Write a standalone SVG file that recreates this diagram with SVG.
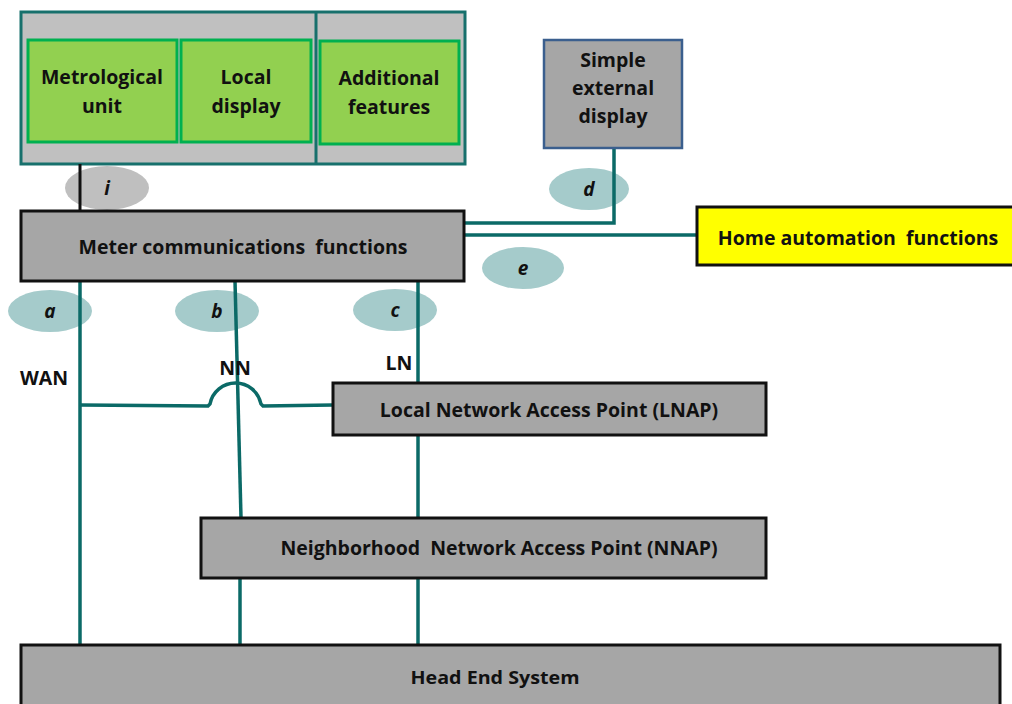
<svg xmlns="http://www.w3.org/2000/svg" width="1012" height="704" viewBox="0 0 1012 704">
<style>
.t{font-family:"Open Sans","Liberation Sans",sans-serif;font-weight:bold;font-size:19.5px;fill:#111;text-anchor:middle;white-space:pre}
.hs{font-family:"Open Sans","Liberation Sans",sans-serif;font-weight:bold;font-size:18px;fill:#111;text-anchor:middle}
.lbl{font-family:"Open Sans","Liberation Sans",sans-serif;font-weight:bold;font-style:italic;font-size:19px;fill:#111;text-anchor:middle}
.gbox{fill:#92d050;stroke:#00b050;stroke-width:3}
.gray{fill:#a6a6a6;stroke:#111;stroke-width:3}
.ell{fill:#a5cbcb}
.con{stroke:#0b6a67;stroke-width:3.5;fill:none}
</style>
<g id="container">
<rect x="21" y="12" width="444" height="152" fill="#c0c0c0" stroke="#17706c" stroke-width="3"/>
<line x1="316" y1="12" x2="316" y2="164" stroke="#17706c" stroke-width="3"/>
</g>
<g id="metrological"><rect class="gbox" x="28" y="40" width="149" height="102"/><text class="t" x="102" y="84">Metrological</text><text class="t" x="102" y="113">unit</text></g>
<g id="localdisplay"><rect class="gbox" x="181" y="40" width="130" height="102"/><text class="t" x="246" y="84">Local</text><text class="t" x="246" y="113">display</text></g>
<g id="additional"><rect class="gbox" x="320" y="41" width="139" height="103"/><text class="t" x="389" y="85">Additional</text><text class="t" x="389" y="114">features</text></g>
<g id="ellipses">
<ellipse cx="107" cy="188" rx="42" ry="22" fill="#bfbfbf"/>
<ellipse class="ell" cx="589" cy="189" rx="40" ry="21"/>
<ellipse class="ell" cx="523" cy="268" rx="41" ry="21"/>
<ellipse class="ell" cx="50" cy="311" rx="42" ry="21"/>
<ellipse class="ell" cx="217" cy="311" rx="42" ry="21"/>
<ellipse class="ell" cx="395" cy="310" rx="42" ry="21"/>
</g>
<g id="connectors">
<line x1="80" y1="164" x2="80" y2="211" stroke="#111" stroke-width="3"/>
<polyline class="con" points="614,148 614,223 465,223"/>
<line class="con" x1="465" y1="235" x2="697" y2="235"/>
<line class="con" x1="80" y1="281" x2="80" y2="645"/>
<line class="con" x1="235" y1="281" x2="241" y2="518"/>
<line class="con" x1="240" y1="578" x2="240" y2="645"/>
<line class="con" x1="418" y1="281" x2="418" y2="383"/>
<line class="con" x1="418" y1="435" x2="418" y2="518"/>
<line class="con" x1="418" y1="578" x2="418" y2="645"/>
<path class="con" d="M80,405 L208,406 L210,404 A26,26 0 0 1 261,404 L263,406 L333,405"/>
</g>
<g id="labels">
<text class="lbl" x="107" y="195">i</text>
<text class="lbl" x="589" y="196">d</text>
<text class="lbl" x="523" y="275">e</text>
<text class="lbl" x="50" y="318">a</text>
<text class="lbl" x="217" y="318">b</text>
<text class="lbl" x="395" y="317">c</text>
<text class="t" x="44" y="385">WAN</text>
<text class="t" x="235" y="375">NN</text>
<text class="t" x="399" y="370">LN</text>
</g>
<g id="meter"><rect class="gray" x="21" y="211" width="443" height="70"/><text class="t" x="243" y="254">Meter communications  functions</text></g>
<g id="simpledisplay"><rect x="544" y="40" width="138" height="108" fill="#a6a6a6" stroke="#3b5f8e" stroke-width="2.5"/><text class="t" x="613" y="67">Simple</text><text class="t" x="613" y="95">external</text><text class="t" x="613" y="123">display</text></g>
<g id="homeauto"><rect x="697" y="207" width="320" height="58" fill="#ffff00" stroke="#111" stroke-width="3"/><text class="t" x="858" y="245">Home automation  functions</text></g>
<g id="lnap"><rect class="gray" x="333" y="383" width="433" height="52"/><text class="t" x="549" y="417">Local Network Access Point (LNAP)</text></g>
<g id="nnap"><rect class="gray" x="201" y="518" width="565" height="60"/><text class="t" x="499" y="555">Neighborhood  Network Access Point (NNAP)</text></g>
<g id="headend"><rect class="gray" x="21" y="645" width="979" height="64"/><text class="hs" x="495" y="684" textLength="169" lengthAdjust="spacingAndGlyphs">Head End System</text></g>
</svg>
